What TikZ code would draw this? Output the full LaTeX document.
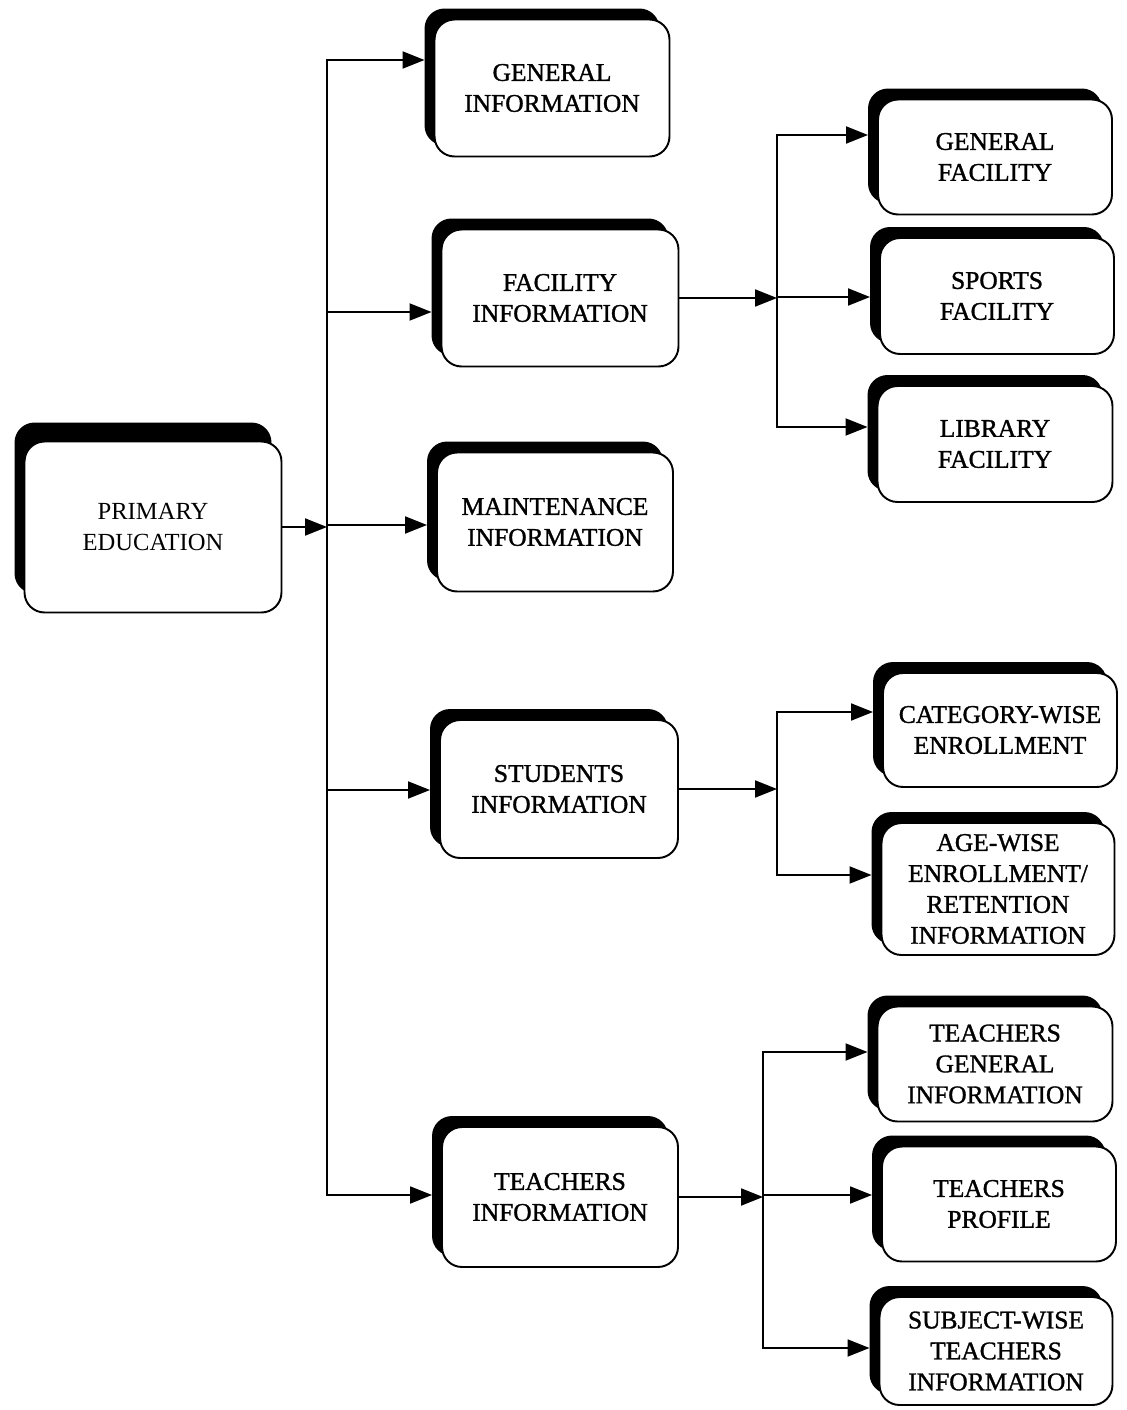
\documentclass[tikz,border=0pt]{standalone}
\usepackage{fontspec}
\setmainfont{Liberation Serif}
\newfontfamily\heavyserif[FakeBold=1.2]{Liberation Serif}
\usetikzlibrary{shadows,arrows.meta}
\tikzset{
  boxbase/.style={draw, line width=1.1pt, rounded corners=0.4cm, fill=white,
    align=center, outer sep=0pt, inner sep=0pt,
    font=\heavyserif\fontsize{14.5pt}{17.6pt}\selectfont},
  box/.style={boxbase, general shadow={fill=black, shadow xshift=-0.2cm, shadow yshift=#1}},
  box/.default=0.22cm,
  link/.style={line width=1.1pt, line cap=rect},
  arr/.style={line width=1.1pt, -{Triangle[length=0.44cm, width=0.34cm]}},
  arrbox/.style={arr, shorten >=0.2cm},
}
\begin{document}
\begin{tikzpicture}[x=0.02cm, y=-0.02cm]
\useasboundingbox (0,0) rectangle (1126,1410);

% main boxes
\node[box=0.38cm, minimum width=5.14cm, minimum height=3.42cm,
      font=\rmfamily\fontsize{14pt}{17.6pt}\selectfont] (prim) at (153,527) {PRIMARY\\EDUCATION};
\node[box, minimum width=4.70cm, minimum height=2.74cm] (gi) at (552,88) {GENERAL\\INFORMATION};
\node[box, minimum width=4.74cm, minimum height=2.74cm] (fi) at (560,298) {FACILITY\\INFORMATION};
\node[box, minimum width=4.72cm, minimum height=2.78cm] (mi) at (555,522) {MAINTENANCE\\INFORMATION};
\node[box, minimum width=4.76cm, minimum height=2.76cm] (si) at (559,789) {STUDENTS\\INFORMATION};
\node[box, minimum width=4.72cm, minimum height=2.80cm] (ti) at (560,1197) {TEACHERS\\INFORMATION};

% right column
\node[box, minimum width=4.68cm, minimum height=2.30cm] (gf) at (995,157) {GENERAL\\FACILITY};
\node[box, minimum width=4.68cm, minimum height=2.32cm] (sf) at (997,296) {SPORTS\\FACILITY};
\node[box, minimum width=4.70cm, minimum height=2.32cm] (lf) at (995,444) {LIBRARY\\FACILITY};
\node[box, minimum width=4.68cm, minimum height=2.28cm] (cw) at (1000,730) {CATEGORY-WISE\\ENROLLMENT};
\node[box, minimum width=4.66cm, minimum height=2.64cm] (aw) at (998,889) {AGE-WISE\\ENROLLMENT/\\RETENTION\\INFORMATION};
\node[box, minimum width=4.70cm, minimum height=2.30cm] (tg) at (995,1064) {TEACHERS\\GENERAL\\INFORMATION};
\node[box, minimum width=4.68cm, minimum height=2.30cm] (tp) at (999,1204) {TEACHERS\\PROFILE};
\node[box, minimum width=4.66cm, minimum height=2.16cm] (sw) at (996,1351) {SUBJECT-WISE\\TEACHERS\\INFORMATION};

% bus A (from primary education)
\coordinate (bA1) at (327,60);
\coordinate (bA2) at (327,312);
\coordinate (bA3) at (327,525);
\coordinate (bA4) at (327,790);
\coordinate (bA5) at (327,1195);
\draw[arr] (prim.east) -- (prim.east -| bA3);
\draw[link] (bA1) -- (bA5);
\draw[arrbox] (bA1) -- (bA1 -| gi.west);
\draw[arrbox] (bA2) -- (bA2 -| fi.west);
\draw[arrbox] (bA3) -- (bA3 -| mi.west);
\draw[arrbox] (bA4) -- (bA4 -| si.west);
\draw[arrbox] (bA5) -- (bA5 -| ti.west);

% bus B (facility)
\coordinate (bB1) at (777,135);
\coordinate (bB2) at (777,297);
\coordinate (bB3) at (777,427);
\draw[arr] (fi.east) -- (fi.east -| bB2);
\draw[link] (bB1) -- (bB3);
\draw[arrbox] (bB1) -- (bB1 -| gf.west);
\draw[arrbox] (bB2) -- (bB2 -| sf.west);
\draw[arrbox] (bB3) -- (bB3 -| lf.west);

% bus C (students)
\coordinate (bC1) at (777,712);
\coordinate (bC2) at (777,875);
\draw[arr] (si.east) -- (si.east -| bC1);
\draw[link] (bC1) -- (bC2);
\draw[arrbox] (bC1) -- (bC1 -| cw.west);
\draw[arrbox] (bC2) -- (bC2 -| aw.west);

% bus D (teachers)
\coordinate (bD1) at (763,1052);
\coordinate (bD2) at (763,1195);
\coordinate (bD3) at (763,1348);
\draw[arr] (ti.east) -- (ti.east -| bD2);
\draw[link] (bD1) -- (bD3);
\draw[arrbox] (bD1) -- (bD1 -| tg.west);
\draw[arrbox] (bD2) -- (bD2 -| tp.west);
\draw[arrbox] (bD3) -- (bD3 -| sw.west);
\end{tikzpicture}
\end{document}
